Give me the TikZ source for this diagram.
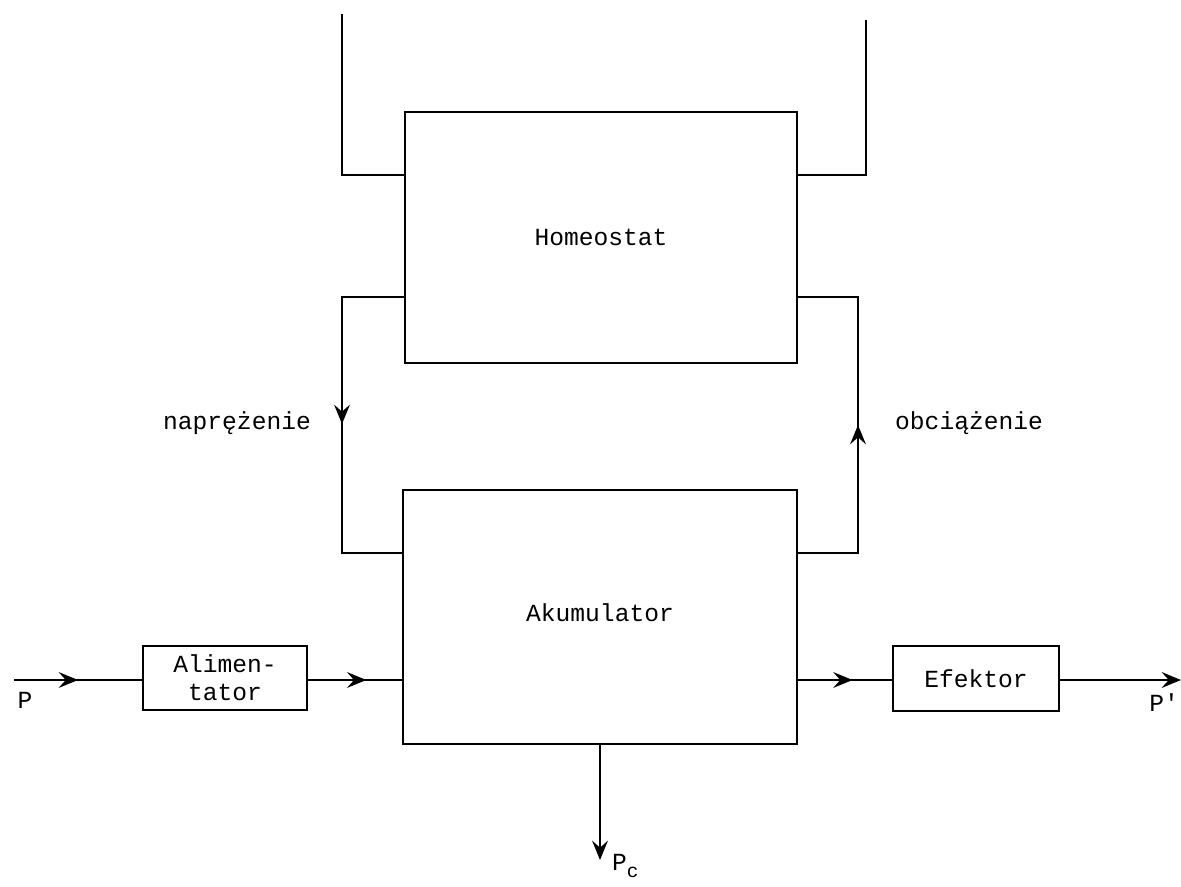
\documentclass[tikz,border=0pt]{standalone}
\usepackage{fontspec}
\setmonofont{Liberation Mono}
\usetikzlibrary{arrows.meta,positioning,decorations.markings}

\tikzset{
  blok/.style={draw, line width=1pt, inner sep=0pt, align=center},
  linia/.style={line width=1pt},
  grot/.tip={Stealth[length=11pt,width=9pt,inset=4pt]},
  strzalka/.style={line width=1pt, postaction={decorate},
    decoration={markings, mark=at position #1 with {\arrow{grot}}}},
  strzalka/.default=0.55,
}

\begin{document}
\begin{tikzpicture}[font=\ttfamily\fontsize{14}{16}\selectfont]
    \useasboundingbox (0,0) rectangle (23.62,17.72);

    \node[blok, minimum width=7.84cm, minimum height=5.02cm] (homeostat) at (12.02,12.97) {Homeostat};
    \node[blok, minimum width=7.88cm, minimum height=5.08cm] (akumulator) at (12.0,5.38) {\raisebox{5pt}{Akumulator}};
    \node[blok, minimum width=3.28cm, minimum height=1.28cm] (alimentator) at (4.5,4.16) {Alimen-\\tator};
    \node[blok, minimum width=3.32cm, minimum height=1.3cm] (efektor) at (19.52,4.15) {Efektor};

    % wejscie i wyjscia
    \coordinate (wej) at (0.28,4.12);
    \coordinate (wyj) at (23.62,4.12);
    \coordinate (pc) at (12.0,0.52);
    \coordinate (akL) at (akumulator.west |- wej);
    \coordinate (akR) at (akumulator.east |- wej);

    \draw[strzalka=0.5] (wej) -- (alimentator.west |- wej);
    \draw[strzalka=0.62] (alimentator.east |- wej) -- (akL);
    \draw[strzalka=0.58] (akR) -- (efektor.west |- wej);
    \draw[linia, -grot] (efektor.east |- wej) -- (wyj);
    \draw[linia, -grot] (akumulator.south -| pc) -- (pc);

    % linie od gory
    \draw[linia] (6.84,17.44) -- (6.84,14.22) -- (homeostat.west |- 0,14.22);
    \draw[linia] (17.32,17.32) -- (17.32,14.22) -- (homeostat.east |- 0,14.22);

    % sprzezenia
    \draw[strzalka=0.5] (homeostat.west |- 0,11.78) -- (6.84,11.78) -- (6.84,6.66) -- (akumulator.west |- 0,6.66);
    \draw[strzalka=0.5] (akumulator.east |- 0,6.66) -- (17.16,6.66) -- (17.16,11.78) -- (homeostat.east |- 0,11.78);

    % opisy
    \node (naprezenie) at (4.74,9.26) {naprężenie};
    \node[anchor=west] (obciazenie) at (17.78,9.26) {obciążenie};
    \node (p) at (0.5,3.72) {P};
    \node[anchor=east, inner sep=1pt] (pprim) at (23.62,3.66) {P'};
    \node[anchor=west] (pcl) at (12.12,0.4) {P\raisebox{-4pt}{\fontsize{11}{12}\selectfont c}};
\end{tikzpicture}
\end{document}
